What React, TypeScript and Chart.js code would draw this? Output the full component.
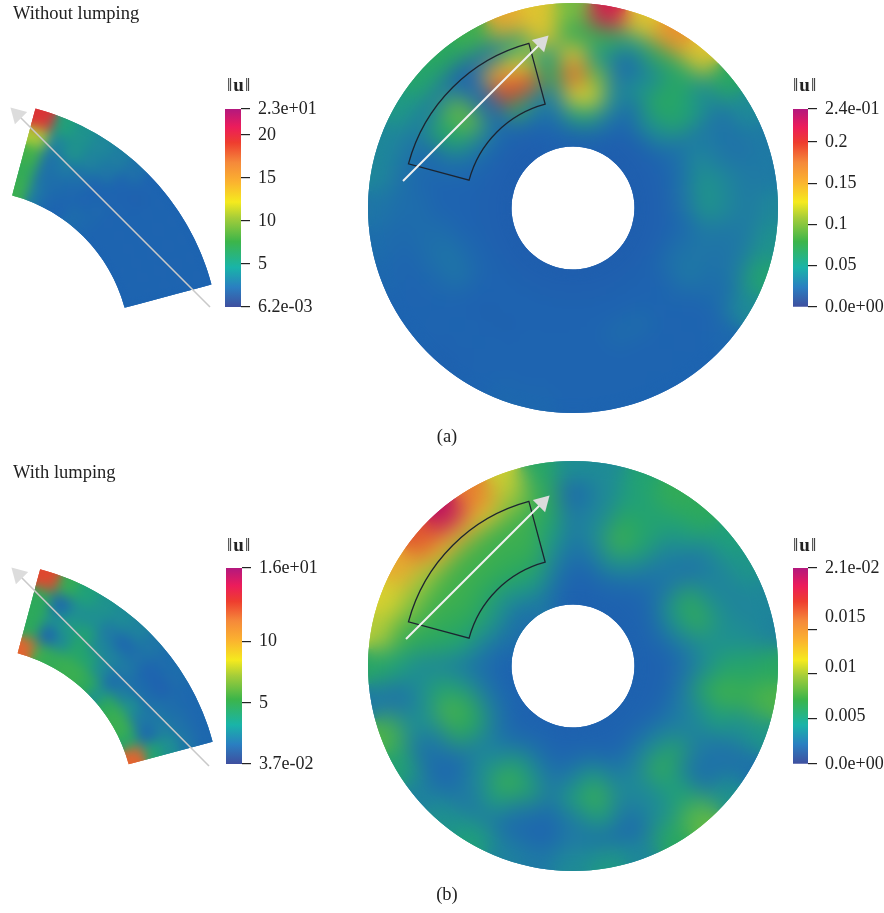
import React, { useEffect, useRef } from "react";
import { Chart, registerables } from "chart.js";

Chart.register(...registerables);

/* Field readings, in percent of each colour bar's range.
   Disks: 36 sectors clockwise from north (10 degrees each), outermost ring first. */
const topDiskRing1 = [40,90,55,68,55,26,14,10,10,13,16,22,14,6,5,5,5,5,5,6,6,5,4,5,5,6,7,9,13,13,18,24,27,33,62,55];
const topDiskRing2 = [28,32,18,28,24,13,8,8,10,10,10,10,7,5,5,5,5,5,5,5,5,5,5,5,5,5,6,7,8,9,10,10,4,8,20,55];
const topDiskRing3 = [55,17,6,13,26,20,10,10,13,13,9,8,7,5,5,5,5,5,5,5,5,5,5,5,6,7,7,7,6,6,24,38,6,62,52,18];
const topDiskRing4 = [76,40,10,17,26,24,10,14,17,17,10,9,10,6,5,7,7,5,5,5,5,4,4,5,9,9,7,5,5,8,22,38,6,82,78,28];
const topDiskRing5 = [52,52,15,6,16,14,7,7,9,9,6,8,8,5,5,5,5,5,5,5,5,5,5,5,6,6,5,5,5,6,9,11,6,30,14,10];
const topDiskRing6 = [20,22,10,5,4,4,4,4,4,4,4,4,4,4,4,4,4,4,4,4,4,4,4,4,4,4,4,4,4,4,4,4,4,5,6,8];
const topDiskRing7 = [4,4,4,3,3,3,3,3,3,3,3,3,3,3,3,3,3,3,3,3,3,3,3,3,3,3,3,3,3,3,3,3,3,3,4,4];

const bottomDiskRing1 = [15,14,22,30,28,20,17,13,12,26,36,17,8,16,38,26,13,18,14,10,12,20,16,12,22,36,10,25,47,52,62,78,95,72,50,25];
const bottomDiskRing2 = [5,13,20,22,20,12,12,12,15,23,30,15,8,7,22,15,6,7,10,5,6,10,9,6,7,14,8,20,33,42,45,58,60,55,42,30];
const bottomDiskRing3 = [10,13,27,22,13,8,13,16,15,24,34,20,10,9,20,13,10,20,10,6,9,20,12,6,10,16,15,14,28,33,35,34,35,33,33,27];
const bottomDiskRing4 = [10,15,34,22,10,10,28,30,16,15,26,14,12,25,30,14,14,33,20,10,24,33,17,11,28,36,24,13,25,30,33,33,33,32,33,20];
const bottomDiskRing5 = [7,10,18,13,8,8,18,17,10,8,10,10,10,13,14,10,10,20,12,8,14,22,12,12,26,30,18,10,20,26,28,26,27,28,28,14];
const bottomDiskRing6 = [5,5,7,6,5,5,6,7,5,4,4,4,5,6,6,5,5,7,6,5,7,8,6,7,11,11,9,7,10,15,18,15,15,20,17,8];
const bottomDiskRing7 = [4,4,4,4,4,4,4,4,4,4,4,4,4,4,4,4,4,4,4,4,4,5,4,4,5,5,5,5,6,7,8,7,8,10,8,5];

/* Wedges: 12 sectors of 5 degrees each, outermost ring first. */
const topWedgeRing1 = [84,20,16,13,11,8,5,5,5,5,5,5];
const topWedgeRing2 = [46,12,16,12,9,5,4,5,5,5,5,5];
const topWedgeRing3 = [34,8,10,8,5,5,5,5,5,5,5,5];
const topWedgeRing4 = [30,8,7,6,5,6,5,5,5,5,5,5];
const topWedgeRing5 = [32,10,6,5,7,6,5,5,5,5,5,5];

const bottomWedgeRing1 = [80,30,20,16,14,12,9,7,7,6,6,6];
const bottomWedgeRing2 = [28,6,15,15,10,6,8,5,4,7,8,9];
const bottomWedgeRing3 = [28,15,18,22,13,12,10,7,7,9,11,15];
const bottomWedgeRing4 = [28,5,14,24,22,14,7,11,15,10,6,22];
const bottomWedgeRing5 = [76,32,30,32,32,28,16,28,32,32,24,76];

/* Colour bars */
const topLeftTicks = [0.0062, 5, 10, 15, 20, 23];
const topLeftLabels = ["6.2e-03", "5", "10", "15", "20", "2.3e+01"];
const topRightTicks = [0, 0.05, 0.1, 0.15, 0.2, 0.24];
const topRightLabels = ["0.0e+00", "0.05", "0.1", "0.15", "0.2", "2.4e-01"];
const bottomLeftTicks = [0.037, 5, 10, 16];
const bottomLeftLabels = ["3.7e-02", "5", "10", "1.6e+01"];
const bottomRightTicks = [0, 0.005, 0.01, 0.015, 0.0218];
const bottomRightLabelAt = [0, 0.0053, 0.0108, 0.0163, 0.0218];
const bottomRightLabels = ["0.0e+00", "0.005", "0.01", "0.015", "2.1e-02"];

const barStops: [number, string][] = [
  [0, "#3f4f9f"], [0.1, "#2a7fc1"], [0.2, "#19b4a8"], [0.33, "#3cb54a"], [0.45, "#a5cd39"],
  [0.53, "#f5ea1e"], [0.63, "#fbb32f"], [0.73, "#f5893a"], [0.83, "#ee3d2f"], [0.91, "#ec1c5b"], [1, "#b3187e"],
];
const fieldStops: [number, string][] = [
  [0, "#2258ac"], [0.05, "#1e64b0"], [0.1, "#1f7aa4"], [0.15, "#1f8f92"], [0.2, "#20a07a"], [0.27, "#2ba85e"],
  [0.35, "#44b14a"], [0.45, "#a6c93c"], [0.52, "#d8d030"], [0.6, "#e8b030"], [0.7, "#ea8c2f"], [0.82, "#dd3c30"],
  [0.92, "#d01555"], [1, "#a01070"],
];

const SERIF = '"Liberation Serif", serif';

function hex(c: string) {
  return [1, 3, 5].map((i) => parseInt(c.slice(i, i + 2), 16));
}
function fieldColor(pct: number) {
  const f = Math.max(0, Math.min(1, pct / 100));
  for (let i = 1; i < fieldStops.length; i++) {
    if (f <= fieldStops[i][0]) {
      const [a, ca] = fieldStops[i - 1];
      const [b, cb] = fieldStops[i];
      const t = (f - a) / (b - a);
      const A = hex(ca);
      const B = hex(cb);
      return `rgb(${A.map((v, k) => Math.round(v + (B[k] - v) * t)).join(",")})`;
    }
  }
  return fieldStops[fieldStops.length - 1][1];
}

function smoothPlugin(rOut: number, rIn: number, fromDeg: number, toDeg: number, sigma: number) {
  return {
    id: "smooth",
    afterDatasetsDraw(chart: any) {
      const { ctx, canvas, width, height } = chart;
      const cx = width / 2;
      const cy = height / 2;
      const a0 = ((fromDeg - 90) * Math.PI) / 180;
      const a1 = ((toDeg - 90) * Math.PI) / 180;
      for (let pass = 0; pass < 3; pass++) {
        ctx.save();
        ctx.beginPath();
        ctx.arc(cx, cy, rOut, a0, a1);
        ctx.arc(cx, cy, rIn, a1, a0, true);
        ctx.closePath();
        ctx.clip();
        ctx.filter = `blur(${sigma}px)`;
        ctx.drawImage(canvas, 0, 0, width, height);
        ctx.restore();
      }
    },
  };
}

function fieldConfig(rings: number[][], rOut: number, rIn: number, rotation: number, circumference: number, sigma: number) {
  const partial = circumference < 360;
  const n = rings[0].length;
  const sector = circumference / n;
  return {
    type: "doughnut",
    data: {
      labels: [...rings[0].map((_, i) => String(i)), "rest"],
      datasets: rings.map((ring) => ({
        data: partial ? [...ring.map(() => 1), (360 - circumference) / sector] : ring.map(() => 1),
        backgroundColor: partial ? [...ring.map(fieldColor), "rgba(0,0,0,0)"] : ring.map(fieldColor),
        borderWidth: 0,
      })),
    },
    options: {
      animation: false,
      responsive: false,
      events: [],
      rotation,
      circumference: 360,
      cutout: `${(rIn / rOut) * 100}%`,
      layout: { padding: 0 },
      plugins: { legend: { display: false }, tooltip: { enabled: false } },
    },
    plugins: [smoothPlugin(rOut, rIn, rotation, rotation + circumference, sigma)],
  };
}

function outlineConfig(rOut: number, rIn: number) {
  return {
    type: "doughnut",
    data: {
      labels: ["sector", "rest"],
      datasets: [{ data: [60, 300], backgroundColor: "rgba(0,0,0,0)", borderColor: ["#1c2430", "rgba(0,0,0,0)"], borderWidth: 1.3, borderJoinStyle: "miter" }],
    },
    options: {
      animation: false,
      responsive: false,
      events: [],
      rotation: -75,
      cutout: `${(rIn / rOut) * 100}%`,
      layout: { padding: 0 },
      plugins: { legend: { display: false }, tooltip: { enabled: false } },
    },
  };
}

function barConfig(min: number, max: number, ticks: number[], labels: string[], labelAt: number[] = ticks) {
  return {
    type: "bar",
    data: {
      labels: ["u"],
      datasets: [
        {
          data: [[min, max]],
          yAxisID: "y",
          barPercentage: 1,
          categoryPercentage: 1,
          borderWidth: 0,
          backgroundColor: (c: any) => {
            const area = c.chart.chartArea;
            if (!area) return "#2a7fc1";
            const g = c.chart.ctx.createLinearGradient(0, area.bottom, 0, area.top);
            barStops.forEach(([p, col]) => g.addColorStop(p, col));
            return g;
          },
        },
      ],
    },
    options: {
      animation: false,
      responsive: false,
      events: [],
      layout: { padding: { top: 12, bottom: 12, left: 0, right: 0 } },
      plugins: { legend: { display: false }, tooltip: { enabled: false } },
      scales: {
        x: { display: false },
        y: {
          position: "right",
          min,
          max,
          afterBuildTicks: (s: any) => { s.ticks = ticks.map((value) => ({ value })); },
          afterFit: (s: any) => { s.width = 9; s.paddingTop = 0; s.paddingBottom = 0; },
          ticks: { display: false, autoSkip: false },
          border: { display: false },
          grid: { drawOnChartArea: false, drawTicks: true, tickLength: 9, color: "#222", lineWidth: 1.2 },
        },
        yl: {
          position: "right",
          min,
          max,
          afterBuildTicks: (s: any) => { s.ticks = labelAt.map((value) => ({ value })); },
          afterFit: (s: any) => { s.width = 80; s.paddingTop = 0; s.paddingBottom = 0; },
          ticks: {
            autoSkip: false,
            padding: 8,
            color: "#222",
            font: { family: SERIF, size: 18 },
            callback: (_v: any, i: number) => labels[i],
          },
          border: { display: false },
          grid: { display: false, drawTicks: false },
        },
      },
    },
  };
}

const arrowTail = [
  { x: 210, y: 307 }, { x: 403, y: 181 }, { x: 209, y: 766 }, { x: 406, y: 639 },
];
const arrowHead = [
  { x: 17.5, y: 114.5 }, { x: 541.5, y: 42.5 }, { x: 18.5, y: 574.5 }, { x: 542.5, y: 502.5 },
];
const arrowAngle = [-45, 45, -45, 45];
const arrowLine = ["#c9c9c9", "#f1f1f1", "#c9c9c9", "#f1f1f1"];

const overlayConfig = {
  type: "scatter",
  data: {
    datasets: arrowTail.map((tail, i) => ({
      data: [tail, arrowHead[i]],
      showLine: true,
      borderColor: arrowLine[i],
      borderWidth: i % 2 ? 2 : 1.6,
      pointRadius: [0, 10],
      pointStyle: "triangle",
      pointRotation: arrowAngle[i],
      pointBackgroundColor: "#dcdcdc",
      pointBorderWidth: 0,
    })),
  },
  options: {
    animation: false,
    responsive: false,
    events: [],
    layout: { padding: 0, autoPadding: false },
    plugins: { legend: { display: false }, tooltip: { enabled: false } },
    scales: {
      x: { display: false, min: 0, max: 884 },
      y: { display: false, min: 0, max: 913, reverse: true },
    },
  },
};

function C({ config, left, top, w, h }: any) {
  const ref = useRef<HTMLCanvasElement>(null);
  useEffect(() => {
    const chart = new Chart(ref.current as any, config);
    return () => chart.destroy();
  }, []);
  return <canvas ref={ref} width={w} height={h} style={{ position: "absolute", left, top, width: w, height: h }} />;
}

function T({ x, y, children, center, size = 18.5, spacing = 0 }: any) {
  return (
    <div style={{ position: "absolute", left: x, top: y, fontFamily: SERIF, fontSize: size, letterSpacing: spacing, lineHeight: "20px", color: "#222", whiteSpace: "nowrap", transform: center ? "translateX(-50%)" : undefined }}>
      {children}
    </div>
  );
}
const Norm = () => <>‖<b>u</b>‖</>;

export default function App() {
  const topDisk = [topDiskRing1, topDiskRing2, topDiskRing3, topDiskRing4, topDiskRing5, topDiskRing6, topDiskRing7];
  const bottomDisk = [bottomDiskRing1, bottomDiskRing2, bottomDiskRing3, bottomDiskRing4, bottomDiskRing5, bottomDiskRing6, bottomDiskRing7];
  const topWedge = [topWedgeRing1, topWedgeRing2, topWedgeRing3, topWedgeRing4, topWedgeRing5];
  const bottomWedge = [bottomWedgeRing1, bottomWedgeRing2, bottomWedgeRing3, bottomWedgeRing4, bottomWedgeRing5];
  return (
    <div style={{ position: "absolute", left: 0, top: 0, width: 884, height: 913, overflow: "hidden", background: "#fff" }}>
      <C config={fieldConfig(topWedge, 249, 159, 15, 60, 3.6)} left={-278} top={100} w={498} h={498} />
      <C config={fieldConfig(bottomWedge, 244, 157, 15, 60, 3.6)} left={-267} top={561} w={488} h={488} />
      <C config={fieldConfig(topDisk, 205, 61.5, -5, 360, 6.5)} left={368} top={3} w={410} h={410} />
      <C config={fieldConfig(bottomDisk, 205, 61.5, -5, 360, 7)} left={368} top={461} w={410} h={410} />
      <C config={outlineConfig(171, 108)} left={402} top={37} w={342} h={342} />
      <C config={outlineConfig(171, 108)} left={402} top={495} w={342} h={342} />
      <C config={barConfig(0.0062, 23, topLeftTicks, topLeftLabels)} left={225} top={97} w={105} h={222} />
      <C config={barConfig(0, 0.24, topRightTicks, topRightLabels)} left={793} top={97} w={104} h={222} />
      <C config={barConfig(0.037, 16, bottomLeftTicks, bottomLeftLabels)} left={226} top={556} w={105} h={220} />
      <C config={barConfig(0, 0.0218, bottomRightTicks, bottomRightLabels, bottomRightLabelAt)} left={793} top={556} w={104} h={220} />
      <C config={overlayConfig} left={0} top={0} w={884} h={913} />
      <T x={13} y={3}>Without lumping</T>
      <T x={13} y={462}>With lumping</T>
      <T x={447} y={426} center>(a)</T>
      <T x={447} y={884} center>(b)</T>
      <T x={227} y={75} size={19} spacing={1}><Norm /></T>
      <T x={793} y={75} size={19} spacing={1}><Norm /></T>
      <T x={227} y={535} size={19} spacing={1}><Norm /></T>
      <T x={793} y={535} size={19} spacing={1}><Norm /></T>
    </div>
  );
}
